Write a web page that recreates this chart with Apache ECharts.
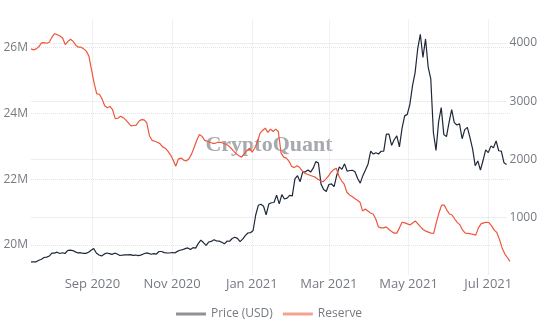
<!DOCTYPE html>
<html><head><meta charset="utf-8">
<script src="https://cdn.jsdelivr.net/npm/echarts@6/dist/echarts.min.js"></script>
<style>html,body{margin:0;padding:0;background:#fff}#c{width:540px;height:330px}</style>
</head><body><div id="c"></div>
<script>
// first day of data and sampling step (days)
const startDate = '2020-07-16';
const dayCount = 365;
const sampleStep = 2;

// ETH price (USD), one value every 2 days from startDate
const price = [
233,236,236,263,279,310,317,335,386,386,
401,379,391,378,427,437,429,407,388,392,
382,381,399,435,465,386,353,337,367,387,
377,364,384,370,344,349,355,354,359,346,
352,341,351,370,388,381,366,377,369,413,
413,393,389,387,396,388,415,435,444,463,
475,447,479,471,549,609,567,518,576,586,
615,596,592,573,545,590,589,637,658,638,
583,626,685,731,737,774,1041,1208,1225,1192,
1044,1229,1252,1256,1382,1233,1391,1317,1332,1378,
1369,1661,1718,1614,1784,1784,1815,1780,1846,1959,
1936,1572,1480,1446,1565,1575,1530,1721,1869,1826,
1921,1794,1806,1810,1785,1669,1589,1718,1816,1919,
2141,2089,2111,2090,2138,2139,2432,2432,2237,2336,
2401,2213,2532,2746,2772,2945,3262,3491,3902,4150,
3750,4070,3587,3381,2460,2150,2643,2888,2424,2390,
2634,2856,2630,2590,2608,2353,2510,2549,2373,2178,
1889,1971,1812,1978,2160,2114,2226,2198,2316,2146,
2140,1940,1911];

// Exchange reserve (millions), one value every 2 days from startDate
const reserve = [
25.96,25.93,25.96,26.03,26.14,26.15,26.13,26.17,26.32,26.42,
26.39,26.35,26.29,26.09,26.18,26.25,26.19,26.07,26.01,26.01,
25.96,25.89,25.74,25.32,24.91,24.59,24.58,24.44,24.23,24.17,
24.21,24.11,23.84,23.85,23.91,23.87,23.80,23.71,23.62,23.63,
23.64,23.76,23.81,23.80,23.71,23.32,23.18,23.15,23.12,23.08,
22.98,22.94,22.85,22.74,22.58,22.39,22.61,22.64,22.58,22.55,
22.62,22.76,22.97,23.18,23.36,23.30,23.18,23.15,23.12,23.09,
23.09,23.12,23.12,23.09,23.06,23.02,22.94,22.85,22.77,22.71,
22.67,22.77,22.86,22.94,22.82,22.94,23.12,23.39,23.48,23.55,
23.42,23.52,23.45,23.52,23.44,22.80,22.67,22.64,22.55,22.39,
22.35,22.41,22.36,22.26,22.18,22.15,22.12,22.09,22.06,22.00,
21.95,21.92,22.00,22.09,22.21,22.29,22.33,22.09,21.95,21.85,
21.61,21.52,21.47,21.41,21.36,21.30,21.03,21.09,21.03,20.97,
20.94,20.79,20.55,20.52,20.52,20.55,20.47,20.41,20.36,20.36,
20.52,20.69,20.67,20.64,20.61,20.67,20.73,20.64,20.55,20.47,
20.42,20.39,20.36,20.35,20.68,20.97,21.21,21.21,21.06,20.94,
20.91,20.79,20.68,20.61,20.45,20.36,20.35,20.34,20.32,20.30,
20.52,20.64,20.67,20.69,20.68,20.58,20.45,20.38,20.17,19.91,
19.73,19.62,19.50];

const reserveTicks = [20, 22, 24, 26];
const priceTicks = [1000, 2000, 3000, 4000];
const monthNames = ['Jan','Feb','Mar','Apr','May','Jun','Jul','Aug','Sep','Oct','Nov','Dec'];
const seriesNames = ['Price (USD)', 'Reserve'];
const watermark = 'CryptoQuant';

// daily category list
const days = [];
const t0 = Date.UTC(2020, 6, 16);
for (let i = 0; i < dayCount; i++) {
  const d = new Date(t0 + i * 86400000);
  days.push(d.toISOString().slice(0, 10));
}
const isTickDay = (idx, v) => {
  const m = +v.slice(5, 7);
  return v.slice(8) === '01' && m % 2 === 1;
};
const fmtDay = v => monthNames[+v.slice(5, 7) - 1] + ' ' + v.slice(0, 4);

const txt = '#767a81';
const FONT = 'Open Sans';

const chart = echarts.init(document.getElementById('c'), null, {renderer: 'canvas'});
chart.setOption({
  animation: false,
  textStyle: {fontFamily: FONT},
  grid: [
    {left: 31, right: 30, top: 14.6, bottom: 19.2},
    {left: 31, right: 30, top: 19.75, bottom: 54.5}
  ],
  graphic: [{
    type: 'text', z: 0,
    x: 269, y: 145,
    style: {
      text: watermark,
      font: 'bold 22px "Liberation Serif"',
      fill: '#a6a9ae',
      textAlign: 'center', textVerticalAlign: 'middle'
    }
  }],
  legend: {
    left: 176, top: 308, padding: 0,
    icon: 'rect', itemWidth: 30, itemHeight: 3, itemGap: 10,
    textStyle: {color: txt, fontSize: 12, fontFamily: FONT},
    data: [
      {name: seriesNames[0], itemStyle: {color: '#8e9196'}, lineStyle: {color: '#8e9196'}},
      {name: seriesNames[1], itemStyle: {color: '#f5a292'}, lineStyle: {color: '#f5a292'}}
    ]
  },
  xAxis: [
    {type: 'category', gridIndex: 0, data: days, boundaryGap: false, show: false},
    {
      type: 'category', gridIndex: 1, data: days, boundaryGap: false,
      axisLine: {show: false}, axisTick: {show: false},
      axisLabel: {interval: isTickDay, formatter: fmtDay, color: txt, fontSize: 13, margin: 2, fontFamily: FONT},
      splitLine: {show: true, interval: isTickDay, lineStyle: {color: '#e4e2e6', type: 'dotted', width: 1}}
    }
  ],
  yAxis: [
    {
      type: 'value', gridIndex: 0, position: 'left', min: 18, max: 27, interval: 2,
      axisLine: {show: false}, axisTick: {show: false},
      axisLabel: {color: txt, fontSize: 12, margin: 3, fontFamily: FONT,
        formatter: v => reserveTicks.includes(v) ? v + 'M' : ''},
      splitLine: {show: true, showMinLine: false, showMaxLine: false,
        lineStyle: {color: '#e4e2e6', type: 'dotted', width: 1}}
    },
    {
      type: 'value', gridIndex: 1, position: 'right', min: 0, max: 4400, interval: 1000,
      axisLine: {show: false}, axisTick: {show: false},
      axisLabel: {color: txt, fontSize: 12, margin: 3, fontFamily: FONT,
        formatter: v => priceTicks.includes(v) ? String(v) : ''},
      splitLine: {show: true, showMinLine: false, showMaxLine: false,
        lineStyle: {color: '#eeeeee', type: 'solid', width: 1}}
    }
  ],
  series: [
    {
      name: seriesNames[0], type: 'line', xAxisIndex: 1, yAxisIndex: 1,
      data: price.map((v, i) => [i * sampleStep, v]),
      showSymbol: false, symbol: 'none', color: '#1f2838',
      lineStyle: {color: '#1f2838', width: 1.2}
    },
    {
      name: seriesNames[1], type: 'line', xAxisIndex: 0, yAxisIndex: 0,
      data: reserve.map((v, i) => [i * sampleStep, v]),
      showSymbol: false, symbol: 'none', color: '#ef563c',
      lineStyle: {color: '#ef563c', width: 1.2}
    }
  ]
});
</script>
</body></html>
